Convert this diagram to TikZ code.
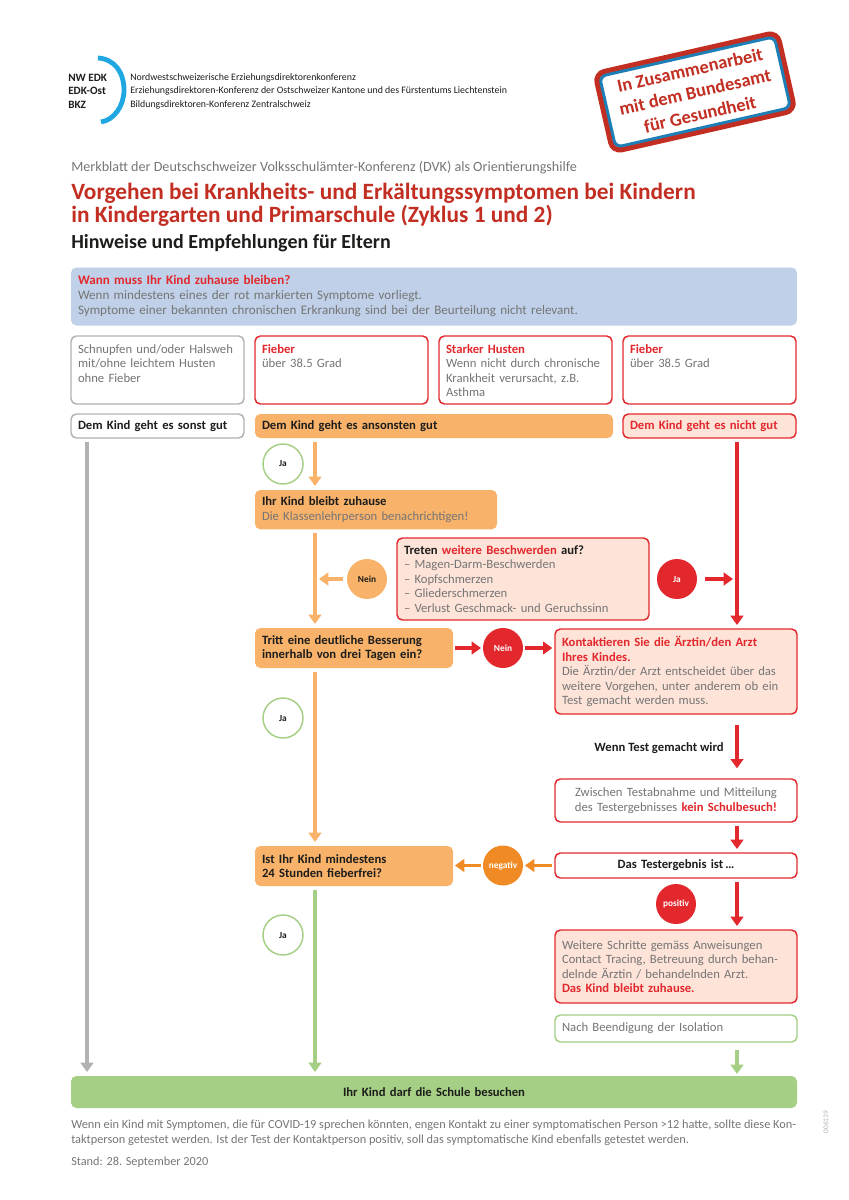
\documentclass[tikz,border=0pt]{standalone}
\usepackage{fontspec}
\usepackage{xcolor}
\setmainfont{Carlito}
\usetikzlibrary{positioning,arrows.meta,calc}
\definecolor{ink}{HTML}{1D1D1B}
\definecolor{slate}{HTML}{757575}
\definecolor{signal}{HTML}{E2282D}
\definecolor{brick}{HTML}{C22E22}
\definecolor{apricot}{HTML}{F8B26A}
\definecolor{amber}{HTML}{F08A24}
\definecolor{blush}{HTML}{FDE3D8}
\definecolor{leaf}{HTML}{A5CF85}
\definecolor{ash}{HTML}{B2B2B2}
\definecolor{sky}{HTML}{BFD0E8}
\definecolor{arcblue}{HTML}{1EA7E1}
\definecolor{stampblue}{HTML}{1D7FB5}
\begin{document}
\begin{tikzpicture}[x=0.75pt,y=-0.75pt,font=\fontsize{9.5}{10.9}\selectfont,
   box/.style={line width=1.1pt,rounded corners=4pt,inner xsep=5.25pt,inner ysep=2pt,outer sep=0pt,
     align=left,text=slate},
   narrow/.style={minimum width=129.75pt,text width=119.25pt},
   half/.style={minimum width=148.5pt,text width=138pt},
   wide/.style={minimum width=181.5pt,text width=171pt},
   topbox/.style={box,narrow,text height=11pt,text depth=36pt,minimum height=51pt},
   grayrim/.style={draw=ash,fill=white},
   redrim/.style={draw=signal,fill=white},
   redfill/.style={draw=signal,fill=blush},
   orangefill/.style={fill=apricot,text=ink},
   badge/.style={circle,minimum size=30pt,inner sep=0pt,outer sep=0pt,font=\fontsize{7}{8}\selectfont\bfseries},
   jaring/.style={badge,draw=leaf,line width=1.1pt,fill=white,text=ink},
   flow/.style={-{Triangle[length=7pt,width=9.5pt]},line width=2.8pt,shorten <=3pt,shorten >=3pt},
   head/.style={font=\fontsize{9.5}{10.9}\selectfont\bfseries,text=ink},
   plain/.style={anchor=west,inner sep=0pt,align=left},
   org/.style={plain,text=ink,font=\fontsize{7.4}{8}\selectfont},
   orgshort/.style={plain,text=ink,font=\fontsize{8.4}{9}\selectfont\bfseries}]
 \useasboundingbox (0,0) rectangle (849,1200);
 \draw[arcblue,line width=3.6pt] (98,58) .. controls (115,59) and (124,73) .. (124,90) .. controls (124,106) and (114,120) .. (101,122);
 \node[orgshort] at (68,78) {NW EDK};
 \node[orgshort] at (68,91) {EDK-Ost};
 \node[orgshort] at (68,105) {BKZ};
 \node[org] at (130,78) {Nordwestschweizerische Erziehungsdirektorenkonferenz};
 \node[org] at (130,91) {Erziehungsdirektoren-Konferenz der Ostschweizer Kantone und des Fürstentums Liechtenstein};
 \node[org] at (130,105) {Bildungsdirektoren-Konferenz Zentralschweiz};
 \node[rotate=12.8,draw=brick,line width=4pt,rounded corners=7pt,fill=white,minimum width=140pt,minimum height=60pt] (stamp) at (695,92) {};
 \node[rotate=12.8,draw=stampblue,line width=2.2pt,rounded corners=5pt,fill=white,minimum width=134.5pt,minimum height=54.5pt,
   inner sep=0pt,align=center,text=brick,font=\fontsize{13.8}{17}\selectfont\bfseries] (stamptext) at (stamp) {In Zusammenarbeit\\mit dem Bundesamt\\für Gesundheit};
 \node[plain,text=slate,font=\fontsize{10.6}{11}\selectfont] (merk) at (71,168) {Merkblatt der Deutschschweizer Volksschulämter-Konferenz (DVK) als Orientierungshilfe};
 \node[plain,text=brick,font=\fontsize{17.5}{17.2}\selectfont\bfseries] (titel) at (71,204.5) {Vorgehen bei Krankheits- und Erkältungssymptomen bei Kindern\\in Kindergarten und Primarschule (Zyklus 1 und 2)};
 \node[plain,text=ink,font=\fontsize{15}{15}\selectfont\bfseries] (hinweis) at (71,243) {Hinweise und Empfehlungen für Eltern};
 \node[box,fill=sky,anchor=north west,minimum width=544.5pt,text width=534pt,minimum height=43.5pt,font=\fontsize{9.8}{11.25}\selectfont] (wann) at (71,267.5)
   {\textcolor{signal}{\textbf{Wann muss Ihr Kind zuhause bleiben?}}\\Wenn mindestens eines der rot markierten Symptome vorliegt.\\Symptome einer bekannten chronischen Erkrankung sind bei der Beurteilung nicht relevant.};
 \node[topbox,grayrim,anchor=north west] (schnupfen) at (71,336) {Schnupfen und/oder Halsweh\\mit/ohne leichtem Husten\\ohne Fieber};
 \node[topbox,redrim,right=8.25pt of schnupfen] (fiebera) {\textcolor{signal}{\textbf{Fieber}}\\über 38.5 Grad};
 \node[topbox,redrim,right=8.25pt of fiebera] (husten) {\textcolor{signal}{\textbf{Starker Husten}}\\Wenn nicht durch chronische\\Krankheit verursacht, z.B.\\Asthma};
 \node[topbox,redrim,right=8.25pt of husten] (fieberb) {\textcolor{signal}{\textbf{Fieber}}\\über 38.5 Grad};
 \node[box,narrow,grayrim,head,minimum height=18pt,below=7.5pt of schnupfen.south west,anchor=north west] (sonst) {Dem Kind geht es sonst gut};
 \node[box,orangefill,head,minimum height=18pt,minimum width=268.5pt,text width=258pt,below=7.5pt of fiebera.south west,anchor=north west] (ansonsten) {Dem Kind geht es ansonsten gut};
 \node[box,narrow,redfill,head,text=signal,minimum height=18pt,below=7.5pt of fieberb.south west,anchor=north west] (nichtgut) {Dem Kind geht es nicht gut};
 \coordinate (lanegray) at (87,0);
 \coordinate (laneorange) at (315,0);
 \coordinate (lanered) at (737,0);
 \node[box,wide,orangefill,minimum height=29.5pt,below=39pt of ansonsten.south west,anchor=north west] (zuhause) {\textbf{Ihr Kind bleibt zuhause}\\\textcolor{slate}{Die Klassenlehrperson benachrichtigen!}};
 \node[box,redfill,minimum width=189pt,text width=178.5pt,minimum height=61.5pt,anchor=north west] (beschwerden) at (397,538)
   {\textcolor{ink}{\textbf{Treten}} \textcolor{signal}{\textbf{weitere Beschwerden}} \textcolor{ink}{\textbf{auf?}}\\– Magen-Darm-Beschwerden\\– Kopfschmerzen\\– Gliederschmerzen\\– Verlust Geschmack- und Geruchssinn};
 \node[box,half,orangefill,head,minimum height=30pt,anchor=north west] (besserung) at (255,628) {Tritt eine deutliche Besserung\\innerhalb von drei Tagen ein?};
 \node[box,wide,redfill,minimum height=63.75pt,anchor=north west] (arzt) at (555,629)
   {\textcolor{signal}{\textbf{Kontaktieren Sie die Ärztin/den Arzt}}\\\textcolor{signal}{\textbf{Ihres Kindes.}}\\Die Ärztin/der Arzt entscheidet über das\\weitere Vorgehen, unter anderem ob ein\\Test gemacht werden muss.};
 \node[box,wide,redrim,align=center,minimum height=32.25pt,below=48.75pt of arzt.south west,anchor=north west] (zwischen) {Zwischen Testabnahme und Mitteilung\\des Testergebnisses \textcolor{signal}{\textbf{kein Schulbesuch!}}};
 \node[box,wide,redrim,head,align=center,minimum height=18.75pt,below=23.25pt of zwischen.south west,anchor=north west] (ergebnis) {Das Testergebnis ist\,…};
 \node[plain,head,anchor=east] (wenntest) at (724,748) {Wenn Test gemacht wird};
 \node[box,half,orangefill,head,minimum height=30pt,anchor=north west] (fieberfrei) at (255,846) {Ist Ihr Kind mindestens\\24 Stunden fieberfrei?};
 \node[box,wide,redfill,minimum height=54.75pt,below=39pt of ergebnis.south west,anchor=north west] (schritte) {Weitere Schritte gemäss Anweisungen\\Contact Tracing, Betreuung durch behan-\\delnde Ärztin / behandelnden Arzt.\\\textcolor{signal}{\textbf{Das Kind bleibt zuhause.}}};
 \node[box,wide,draw=leaf,fill=white,minimum height=20.25pt,below=9pt of schritte.south west,anchor=north west] (isolation) {Nach Beendigung der Isolation};
 \node[box,fill=leaf,head,align=center,minimum width=544.5pt,text width=534pt,minimum height=24pt,anchor=north west] (schule) at (71,1076) {Ihr Kind darf die Schule besuchen};
 \node[jaring] (jaa) at (283,464) {Ja};
 \node[jaring] (jab) at (283,718) {Ja};
 \node[jaring] (jac) at (283,935) {Ja};
 \node[badge,fill=apricot,text=ink,left=7.5pt of beschwerden] (neina) {Nein};
 \node[badge,fill=signal,text=white,right=6pt of beschwerden] (jared) {Ja};
 \node[badge,fill=signal,text=white,right=22.5pt of besserung] (neinb) {Nein};
 \node[badge,fill=amber,text=white,left=24pt of ergebnis] (negativ) {negativ};
 \node[badge,fill=signal,text=white] (positiv) at (676,904) {positiv};
 \draw[flow,ash] (sonst.south -| lanegray) -- (schule.north -| lanegray);
 \draw[flow,apricot] (ansonsten.south -| laneorange) -- (zuhause.north -| laneorange);
 \draw[flow,apricot] (zuhause.south -| laneorange) -- (besserung.north -| laneorange);
 \draw[flow,apricot] (neina) -- (neina -| laneorange);
 \draw[flow,apricot] (besserung.south -| laneorange) -- (fieberfrei.north -| laneorange);
 \draw[flow,leaf] (fieberfrei.south -| laneorange) -- (schule.north -| laneorange);
 \draw[flow,signal] (nichtgut.south -| lanered) -- (arzt.north -| lanered);
 \draw[flow,signal,shorten <=6pt] (jared) -- (jared -| lanered);
 \draw[flow,signal,shorten >=1.5pt,shorten <=1.5pt] (besserung.east |- neinb) -- (neinb);
 \draw[flow,signal,shorten >=2pt,shorten <=1.5pt] (neinb) -- (neinb -| arzt.west);
 \draw[flow,signal,shorten >=8pt,shorten <=8pt] (arzt.south -| lanered) -- (zwischen.north -| lanered);
 \draw[flow,signal] (zwischen.south -| lanered) -- (ergebnis.north -| lanered);
 \draw[flow,amber,shorten >=1.5pt,shorten <=2pt] (ergebnis.west |- negativ) -- (negativ);
 \draw[flow,amber,shorten >=1.5pt,shorten <=1.5pt] (negativ) -- (fieberfrei.east |- negativ);
 \draw[flow,signal] (ergebnis.south -| lanered) -- (schritte.north -| lanered);
 \draw[flow,leaf,shorten <=6pt,shorten >=1.5pt] (isolation.south -| lanered) -- (schule.north -| lanered);
 \node[plain,text=slate,font=\fontsize{9.24}{11.25}\selectfont] (hinweistext) at (71,1132.5) {Wenn ein Kind mit Symptomen, die für COVID-19 sprechen könnten, engen Kontakt zu einer symptomatischen Person >12 hatte, sollte diese Kon-\\taktperson getestet werden. Ist der Test der Kontaktperson positiv, soll das symptomatische Kind ebenfalls getestet werden.};
 \node[plain,text=slate,font=\fontsize{9.2}{11}\selectfont] (stand) at (71,1162) {Stand: 28. September 2020};
 \node[rotate=90,text=ash,inner sep=0pt,font=\fontsize{5.5}{6}\selectfont] (nummer) at (826,1122) {006139};
\end{tikzpicture}
\end{document}
